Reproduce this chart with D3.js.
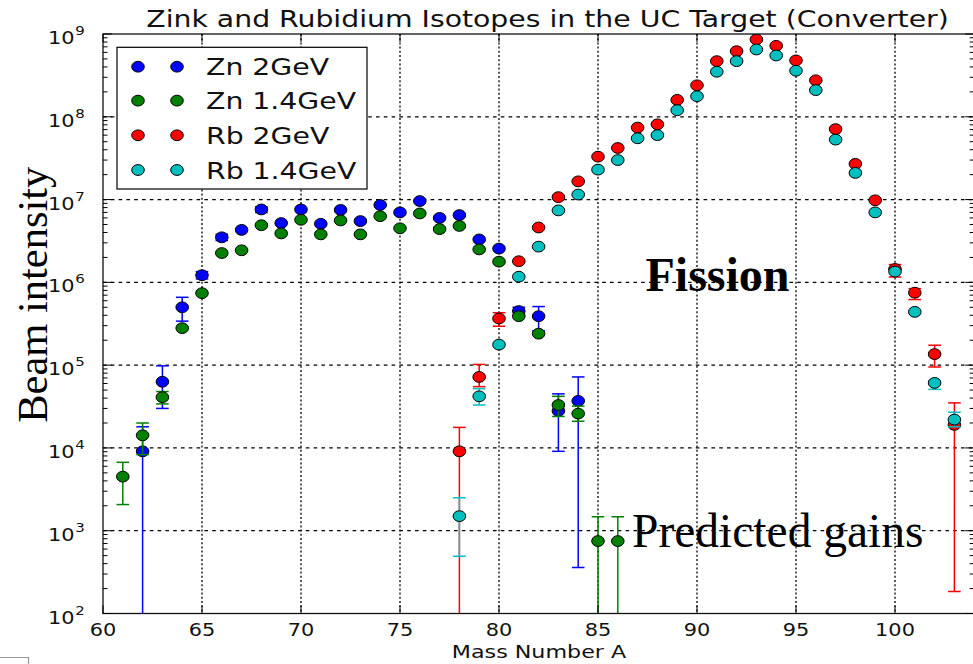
<!DOCTYPE html>
<html>
<head>
<meta charset="utf-8">
<script src="https://cdn.jsdelivr.net/npm/d3@7"></script>
<style>
  html, body { margin: 0; padding: 0; background: #fff; }
  svg { display: block; }
</style>
</head>
<body>
<svg id="chart" width="973" height="664"></svg>
<script>
// ---- data: beam intensity per mass number ----
const znMass2 = [62, 63, 64, 65, 66, 67, 68, 69, 70, 71, 72, 73, 74, 75, 76, 77, 78, 79, 80, 81, 82, 83, 84];
const zn2GeV = [9.1e3, 6.3e4, 5.0e5, 1.22e6, 3.5e6, 4.3e6, 7.6e6, 5.2e6, 7.6e6, 5.1e6, 7.5e6, 5.5e6, 8.6e6, 7.0e6, 9.6e6, 6.0e6, 6.5e6, 3.3e6, 2.56e6, 4.5e5, 3.9e5, 2.8e4, 3.7e4];
const zn2GeVLow = [1, 3.0e4, 3.4e5, 1.1e6, 3.2e6, null, 7.0e6, null, null, null, null, null, null, null, null, null, null, null, null, 4.0e5, 2.6e5, 9.1e3, 360];
const zn2GeVHigh = [1.8e4, 9.8e4, 6.6e5, 1.35e6, 3.8e6, null, 8.2e6, null, null, null, null, null, null, null, null, null, null, null, null, 5.0e5, 5.1e5, 4.5e4, 7.2e4];

const znMass14 = [61, 62, 63, 64, 65, 66, 67, 68, 69, 70, 71, 72, 73, 74, 75, 76, 77, 78, 79, 80, 81, 82, 83, 84, 85, 86];
const zn14GeV = [4.5e3, 1.42e4, 4.1e4, 2.8e5, 7.4e5, 2.26e6, 2.44e6, 4.9e6, 3.9e6, 5.7e6, 3.8e6, 5.6e6, 3.8e6, 6.3e6, 4.5e6, 6.8e6, 4.4e6, 4.8e6, 2.5e6, 1.78e6, 3.9e5, 2.4e5, 3.3e4, 2.6e4, 750, 750];
const zn14GeVLow = [2.07e3, 8.3e3, 3.4e4, null, null, null, null, null, null, null, null, null, null, null, null, null, null, null, null, null, null, null, 2.4e4, 2.1e4, 1, 1];
const zn14GeVHigh = [6.7e3, 2.0e4, 4.8e4, null, null, null, null, null, null, null, null, null, null, null, null, null, null, null, null, null, null, null, 4.2e4, 3.2e4, 1.47e3, 1.47e3];

const rbMass = [78, 79, 80, 81, 82, 83, 84, 85, 86, 87, 88, 89, 90, 91, 92, 93, 94, 95, 96, 97, 98, 99, 100, 101, 102, 103];
const rb2GeV = [9.1e3, 7.2e4, 3.66e5, 1.8e6, 4.6e6, 1.07e7, 1.66e7, 3.3e7, 4.2e7, 7.4e7, 8.1e7, 1.6e8, 2.4e8, 4.7e8, 6.2e8, 8.6e8, 7.2e8, 4.8e8, 2.76e8, 7.1e7, 2.7e7, 9.8e6, 1.45e6, 7.5e5, 1.36e5, 1.9e4];
const rb2GeVLow = [1, 5.5e4, 2.95e5, null, null, null, null, null, null, null, null, null, null, null, null, null, null, null, null, null, null, null, 1.16e6, 6.2e5, 9.5e4, 185];
const rb2GeVHigh = [1.77e4, 1.02e5, 4.3e5, null, null, null, null, null, null, null, null, null, null, null, null, null, null, null, null, null, null, null, 1.64e6, 8.4e5, 1.74e5, 3.5e4];

const rb14GeV = [1.5e3, 4.2e4, 1.77e5, 1.17e6, 2.7e6, 7.4e6, 1.15e7, 2.3e7, 3.0e7, 5.5e7, 6.0e7, 1.2e8, 1.77e8, 3.5e8, 4.7e8, 6.5e8, 5.5e8, 3.6e8, 2.1e8, 5.3e7, 2.1e7, 7.0e6, 1.35e6, 4.4e5, 6.1e4, 2.2e4];
const rb14GeVLow = [490, 3.3e4, null, null, null, null, null, null, null, null, null, null, null, null, null, null, null, null, null, null, null, null, null, null, 5.1e4, 1.8e4];
const rb14GeVHigh = [2.5e3, 5.2e4, null, null, null, null, null, null, null, null, null, null, null, null, null, null, null, null, null, null, null, null, null, null, 6.5e4, 2.7e4];

const seriesNames = ["Zn 2GeV", "Zn 1.4GeV", "Rb 2GeV", "Rb 1.4GeV"];
const seriesColors = ["#0000ff", "#008000", "#ff0000", "#00bfbf"];

const xTicks = [60, 65, 70, 75, 80, 85, 90, 95, 100];
const yExponents = [2, 3, 4, 5, 6, 7, 8, 9];

const titleText = "Zink and Rubidium Isotopes in the UC Target (Converter)";
const xLabelText = "Mass Number A";
const yLabelText = "Beam intensity";

// ---- layout ----
const svg = d3.select("#chart");
const plotLeft = 103, plotRight = 974.2, plotTop = 34, plotBottom = 613.5;
const sx = 1.2; // horizontal stretch of the axis lettering
const sansFont = "'DejaVu Sans', sans-serif";
const serifFont = "'Liberation Serif', 'Times New Roman', serif";

const x = d3.scaleLinear().domain([60, 104]).range([plotLeft, plotRight]);
const y = d3.scaleLog().domain([1e2, 1e9]).range([plotBottom, plotTop]);

svg.append("defs").append("clipPath").attr("id", "plotClip")
  .append("rect").attr("x", plotLeft).attr("y", plotTop)
  .attr("width", plotRight - plotLeft).attr("height", plotBottom - plotTop);

// grid
const grid = svg.append("g");
grid.selectAll("line.vx").data(xTicks.filter(t => t > 60)).join("line")
  .attr("x1", d => x(d)).attr("x2", d => x(d))
  .attr("y1", plotTop).attr("y2", plotBottom)
  .attr("stroke", "#000").attr("stroke-width", 1.3)
  .attr("stroke-dasharray", "2,2.2");
grid.selectAll("line.hy").data(yExponents.filter(e => e > 2 && e < 9)).join("line")
  .attr("x1", plotLeft).attr("x2", plotRight)
  .attr("y1", d => y(Math.pow(10, d))).attr("y2", d => y(Math.pow(10, d)))
  .attr("stroke", "#000").attr("stroke-width", 1.3)
  .attr("stroke-dasharray", "3.6,4.2");

// series
const series = [
  { mass: znMass2, val: zn2GeV, lo: zn2GeVLow, hi: zn2GeVHigh },
  { mass: znMass14, val: zn14GeV, lo: zn14GeVLow, hi: zn14GeVHigh },
  { mass: rbMass, val: rb2GeV, lo: rb2GeVLow, hi: rb2GeVHigh },
  { mass: rbMass, val: rb14GeV, lo: rb14GeVLow, hi: rb14GeVHigh }
];

const rx = 6.3, ry = 5.4, capW = 6.3;
const plot = svg.append("g").attr("clip-path", "url(#plotClip)");

series.forEach((s, i) => {
  const color = seriesColors[i];
  const pts = s.mass.map((m, k) => ({ m, v: s.val[k], lo: s.lo[k], hi: s.hi[k] }));
  const g = plot.append("g");
  const errs = pts.filter(p => p.lo != null && p.hi != null);
  const eg = g.selectAll("g.err").data(errs).join("g");
  eg.append("line")
    .attr("x1", p => x(p.m)).attr("x2", p => x(p.m))
    .attr("y1", p => y(Math.max(p.lo, 1))).attr("y2", p => y(p.hi))
    .attr("stroke", color).attr("stroke-width", 1.5);
  eg.append("line")
    .attr("x1", p => x(p.m) - capW).attr("x2", p => x(p.m) + capW)
    .attr("y1", p => y(p.hi)).attr("y2", p => y(p.hi))
    .attr("stroke", color).attr("stroke-width", 1.5);
  eg.filter(p => p.lo >= 1e2).append("line")
    .attr("x1", p => x(p.m) - capW).attr("x2", p => x(p.m) + capW)
    .attr("y1", p => y(p.lo)).attr("y2", p => y(p.lo))
    .attr("stroke", color).attr("stroke-width", 1.5);
  g.selectAll("ellipse").data(pts).join("ellipse")
    .attr("cx", p => x(p.m)).attr("cy", p => y(p.v))
    .attr("rx", rx).attr("ry", ry)
    .attr("fill", color).attr("stroke", "#000").attr("stroke-width", 1);
});

// spines
svg.append("rect").attr("x", plotLeft).attr("y", plotTop)
  .attr("width", plotRight - plotLeft).attr("height", plotBottom - plotTop)
  .attr("fill", "none").attr("stroke", "#111").attr("stroke-width", 1.3);

// x ticks (inward, bottom and top)
const ticks = svg.append("g").attr("stroke", "#000").attr("stroke-width", 1);
xTicks.forEach(t => {
  ticks.append("line").attr("x1", x(t)).attr("x2", x(t)).attr("y1", plotBottom).attr("y2", plotBottom - 8);
  ticks.append("line").attr("x1", x(t)).attr("x2", x(t)).attr("y1", plotTop).attr("y2", plotTop + 8);
});
// y ticks (major + minor), both sides
yExponents.forEach(e => {
  const v = Math.pow(10, e);
  ticks.append("line").attr("x1", plotLeft).attr("x2", plotLeft + 9).attr("y1", y(v)).attr("y2", y(v));
  ticks.append("line").attr("x1", plotRight).attr("x2", plotRight - 9).attr("y1", y(v)).attr("y2", y(v));
  if (e < 9) {
    for (let k = 2; k <= 9; k++) {
      const mv = k * v;
      ticks.append("line").attr("x1", plotLeft).attr("x2", plotLeft + 4.5).attr("y1", y(mv)).attr("y2", y(mv));
      ticks.append("line").attr("x1", plotRight).attr("x2", plotRight - 4.5).attr("y1", y(mv)).attr("y2", y(mv));
    }
  }
});

// x tick labels
xTicks.forEach(t => {
  svg.append("g").attr("transform", `translate(${x(t)},636) scale(${sx},1)`)
    .append("text").attr("text-anchor", "middle")
    .attr("font-family", sansFont).attr("font-size", 17.4).attr("fill", "#111")
    .text(t);
});

// y tick labels as 10^n
yExponents.forEach(e => {
  const yy = y(Math.pow(10, e));
  const g = svg.append("g").attr("transform", `translate(74.5,${yy}) scale(${sx},1)`)
    .attr("font-family", sansFont).attr("fill", "#111");
  g.append("text").attr("x", 0).attr("y", 10).attr("text-anchor", "end")
    .attr("font-size", 17.4).text("10");
  g.append("text").attr("x", 0.6).attr("y", 1).attr("text-anchor", "start")
    .attr("font-size", 12.5).text(e);
});

// title and axis labels
svg.append("g").attr("transform", `translate(547.5,27.3) scale(${sx},1)`)
  .append("text").attr("text-anchor", "middle")
  .attr("font-family", sansFont).attr("font-size", 23.6).attr("fill", "#111")
  .text(titleText);
svg.append("g").attr("transform", `translate(539,658) scale(${sx},1)`)
  .append("text").attr("text-anchor", "middle")
  .attr("font-family", sansFont).attr("font-size", 18.5).attr("fill", "#111")
  .text(xLabelText);
svg.append("text").attr("transform", "translate(46.5,294.7) rotate(-90)")
  .attr("text-anchor", "middle").attr("font-family", serifFont)
  .attr("font-size", 42.5).attr("fill", "#000").text(yLabelText);

// legend
const lg = svg.append("g");
lg.append("rect").attr("x", 117).attr("y", 47.3).attr("width", 250).attr("height", 141.7)
  .attr("fill", "#fff").attr("stroke", "#000").attr("stroke-width", 1.2);
const rowY = [66.7, 100.6, 135.3, 170];
seriesNames.forEach((name, i) => {
  [138, 177].forEach(mx => {
    lg.append("ellipse").attr("cx", mx).attr("cy", rowY[i]).attr("rx", rx).attr("ry", ry)
      .attr("fill", seriesColors[i]).attr("stroke", "#000").attr("stroke-width", 1);
  });
  lg.append("g").attr("transform", `translate(206,${rowY[i] + 8.5}) scale(${sx},1)`)
    .append("text").attr("font-family", sansFont).attr("font-size", 23.6).attr("fill", "#111")
    .text(name);
});

// annotations
svg.append("text").attr("x", 717.5).attr("y", 291).attr("text-anchor", "middle")
  .attr("font-family", serifFont).attr("font-weight", "bold").attr("font-size", 48)
  .attr("fill", "#000").text("Fission");
svg.append("text").attr("x", 632).attr("y", 547)
  .attr("font-family", serifFont).attr("font-size", 47.5)
  .attr("fill", "#000").text("Predicted gains");

// frame corner at the lower left edge
svg.append("path").attr("d", "M0,657.5 H28.5 V664").attr("fill", "none")
  .attr("stroke", "#999").attr("stroke-width", 1.2);
</script>
</body>
</html>
